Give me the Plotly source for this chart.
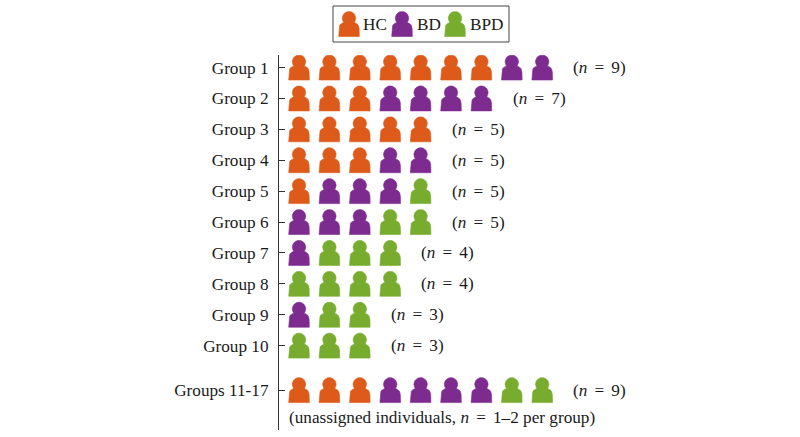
import math
import plotly.graph_objects as go

groups = ["Group 1", "Group 2", "Group 3", "Group 4", "Group 5", "Group 6", "Group 7",
          "Group 8", "Group 9", "Group 10", "Groups 11-17"]
hc = [7, 3, 5, 3, 1, 0, 0, 0, 0, 0, 3]
bd = [2, 4, 0, 2, 3, 3, 1, 0, 1, 0, 4]
bpd = [0, 0, 0, 0, 1, 2, 3, 4, 2, 3, 2]
row_pos = [0, 1, 2, 3, 4, 5, 6, 7, 8, 9, 10.44]
class_names = ["HC", "BD", "BPD"]
class_colors = ["#DD5A1A", "#7D2B8F", "#77AC2E"]
EQ = "\u2004\u200a=\u2004\u200a"
note = f"(unassigned individuals, <i>n</i>{EQ}1–2 per group)"

W, H = 800, 437
SLOT, ROW = 30.4, 30.9
X0, Y0 = 299, 67.5
SERIF = "Liberation Serif, Times New Roman, serif"


def outline():
    """Person silhouette in pixel offsets from its centre."""
    pts = [(-10.3, 12.5), (-10.2, 7)]
    for i in range(0, 7):
        a = math.pi + i / 6 * math.pi / 2
        pts.append((-4.5 + 5.6 * math.cos(a), 4.5 + 6 * math.sin(a)))
    for i in range(0, 25):
        a = math.radians(130 + i * (280 / 24))
        pts.append((6.7 * math.cos(a), -5.8 + 6.7 * math.sin(a)))
    for i in range(0, 7):
        a = -math.pi / 2 + i / 6 * math.pi / 2
        pts.append((4.5 + 5.6 * math.cos(a), 4.5 + 6 * math.sin(a)))
    pts += [(10.2, 7), (10.3, 12.5), (-10.3, 12.5)]
    return pts


SHAPE = outline()


def add_person(xs, ys, cx, cy, sx, sy):
    for dx, dy in SHAPE:
        xs.append(cx + dx / sx)
        ys.append(cy + dy / sy)
    xs.append(None)
    ys.append(None)


fig = go.Figure()

# Main rows
rows = [hc, bd, bpd]
traces = [([], []) for _ in rows]
for r, pos in enumerate(row_pos):
    col = 0
    for k, series in enumerate(rows):
        for _ in range(series[r]):
            add_person(traces[k][0], traces[k][1], col, pos, SLOT, ROW)
            col += 1
for k, (xs, ys) in enumerate(traces):
    fig.add_trace(go.Scatter(x=xs, y=ys, mode="lines", fill="toself",
                             fillcolor=class_colors[k], line=dict(width=0.6, color=class_colors[k]),
                             hoverinfo="skip", showlegend=False, xaxis="x", yaxis="y"))

# Legend icons (secondary pixel-scale axes)
leg_x = [349, 402, 455]
leg_text_x = [361, 415, 468]
LEG_H = 50
for k, name in enumerate(class_names):
    xs, ys = [], []
    add_person(xs, ys, leg_x[k], 24, 1, 1)
    fig.add_trace(go.Scatter(x=xs, y=ys, mode="lines", fill="toself",
                             fillcolor=class_colors[k], line=dict(width=0.6, color=class_colors[k]),
                             hoverinfo="skip", showlegend=False, xaxis="x2", yaxis="y2"))

FONT = dict(family=SERIF, size=17.2, color="#1a1a1a")
ann = []
for k, name in enumerate(class_names):
    ann.append(dict(x=leg_text_x[k], y=24, xref="x2", yref="y2", text=name, showarrow=False,
                    xanchor="left", yanchor="middle", font=FONT))
for r, pos in enumerate(row_pos):
    n = hc[r] + bd[r] + bpd[r]
    ann.append(dict(x=n + 0.9, y=pos, xref="x", yref="y", text=f"(<i>n</i>{EQ}{n})", showarrow=False,
                    xanchor="center", yanchor="middle", font=FONT))
ann.append(dict(x=-0.39, y=row_pos[-1] + 0.88, xref="x", yref="y", text=note, showarrow=False,
                xanchor="left", yanchor="middle", font=FONT))

fig.update_layout(
    width=W, height=H, margin=dict(l=0, r=0, t=0, b=0),
    paper_bgcolor="white", plot_bgcolor="rgba(0,0,0,0)", showlegend=False,
    annotations=ann,
    xaxis=dict(domain=[279 / W, 1], range=[(279 - X0) / SLOT, (W - X0) / SLOT],
               visible=False, fixedrange=True),
    yaxis=dict(domain=[(H - 430) / H, (H - 55) / H],
               range=[(430 - Y0) / ROW, (55 - Y0) / ROW], anchor="x",
               tickmode="array", tickvals=row_pos, ticktext=groups,
               ticks="inside", ticklen=6, tickcolor="#333", tickwidth=1,
               showline=True, linecolor="#333", linewidth=1, showgrid=False, zeroline=False,
               ticklabelstandoff=6,
               tickfont=FONT, fixedrange=True),
    xaxis2=dict(domain=[0, 1], range=[0, W], visible=False, fixedrange=True, anchor="y2"),
    yaxis2=dict(domain=[(H - LEG_H) / H, 1], range=[LEG_H, 0], visible=False, fixedrange=True, anchor="x2"),
    shapes=[dict(type="rect", xref="x2", yref="y2", x0=333, x1=509, y0=6, y1=42,
                 line=dict(color="#444", width=1), fillcolor="rgba(0,0,0,0)")],
)
fig.write_html("out.html", config={"displayModeBar": False},
               post_script='document.body.style.margin="0";document.documentElement.style.overflow="hidden";')
